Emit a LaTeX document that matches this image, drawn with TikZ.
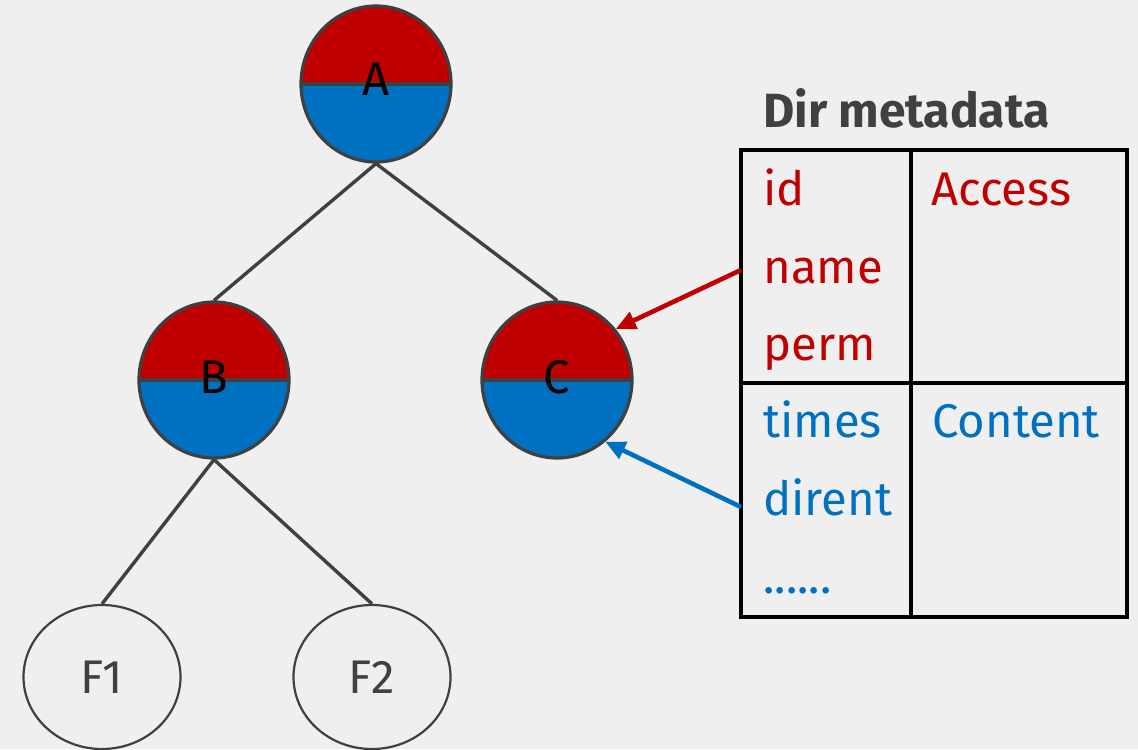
\documentclass[tikz,border=0pt]{standalone}
\usepackage{fontspec}
\setmainfont{Fira Sans}
\usetikzlibrary{shapes.geometric,arrows.meta}
\definecolor{bg}{HTML}{EFEFEF}
\definecolor{ink}{HTML}{404040}
\definecolor{accred}{HTML}{C00000}
\definecolor{conblue}{HTML}{0070C0}
\tikzset{
  labelfont/.style={font=\fontsize{23.6}{28}\selectfont},
  dirnode/.style={ellipse, draw=ink, line width=1.6pt, minimum width=75pt,
    minimum height=78pt, inner sep=0pt, text=black, labelfont, text depth=3pt,
    path picture={
      \fill[accred] (path picture bounding box.north west) rectangle (path picture bounding box.east);
      \fill[conblue] (path picture bounding box.west) rectangle (path picture bounding box.south east);
      \draw[ink, line width=1.6pt] (path picture bounding box.west) -- (path picture bounding box.east);
    }},
  filenode/.style={ellipse, draw=ink, line width=1.1pt, minimum width=78.5pt,
    minimum height=72pt, inner sep=0pt, text=ink, labelfont},
  treeedge/.style={draw=ink, line width=1.7pt},
  cell/.style={rectangle, draw=black, line width=1.6pt, inner sep=0pt, outer sep=0pt},
  entry/.style={anchor=base west, inner sep=0pt, labelfont},
  link/.style={line width=2.3pt, -{Triangle[length=10pt,width=9pt]}},
}
\begin{document}
\begin{tikzpicture}[x=0.5pt, y=-0.5pt]
  % canvas
  \fill[bg] (0,0) rectangle (1138,749);
  \useasboundingbox (0,0) rectangle (1138,749);

  % directory tree
  \node[dirnode, text depth=5pt] (A) at (376,84) {A};
  \node[dirnode] (B) at (214,380) {B};
  \node[dirnode] (C) at (557,380) {C};
  \node[filenode] (F1) at (102,677) {F1};
  \node[filenode] (F2) at (372,677) {F2};

  \draw[treeedge] (A.south) -- (B.north);
  \draw[treeedge] (A.south) -- (C.north);
  \draw[treeedge] (B.south) -- (F1.north);
  \draw[treeedge] (B.south) -- (F2.north);

  % metadata table
  \node[anchor=base west, inner sep=0pt, text=ink, font=\fontsize{24}{28}\selectfont\bfseries]
    (title) at (763,127) {Dir metadata};
  \node[cell, minimum width=85pt, minimum height=116.5pt] (akeys) at (826,266.5) {};
  \node[cell, minimum width=108pt, minimum height=116.5pt] (aname) at (1019,266.5) {};
  \node[cell, minimum width=85pt, minimum height=117pt] (ckeys) at (826,500) {};
  \node[cell, minimum width=108pt, minimum height=117pt] (cname) at (1019,500) {};

  \node[entry, text=accred] (tid) at (763,205) {id};
  \node[entry, text=accred] (tname) at (763,283) {name};
  \node[entry, text=accred] (tperm) at (763,360) {perm};
  \node[entry, text=accred] (taccess) at (931,205) {Access};
  \node[entry, text=conblue] (ttimes) at (763,437) {times};
  \node[entry, text=conblue] (tdirent) at (763,515) {dirent};
  \node[entry, text=conblue] (tmore) at (763,593) {......};
  \node[entry, text=conblue] (tcontent) at (932,437) {Content};

  % links from table to node C
  \coordinate (redtail) at (741,270);
  \coordinate (bluetail) at (741,507);
  \draw[link, accred] (redtail) -- (C.41);
  \draw[link, conblue] (bluetail) -- (C.-52);
\end{tikzpicture}
\end{document}
